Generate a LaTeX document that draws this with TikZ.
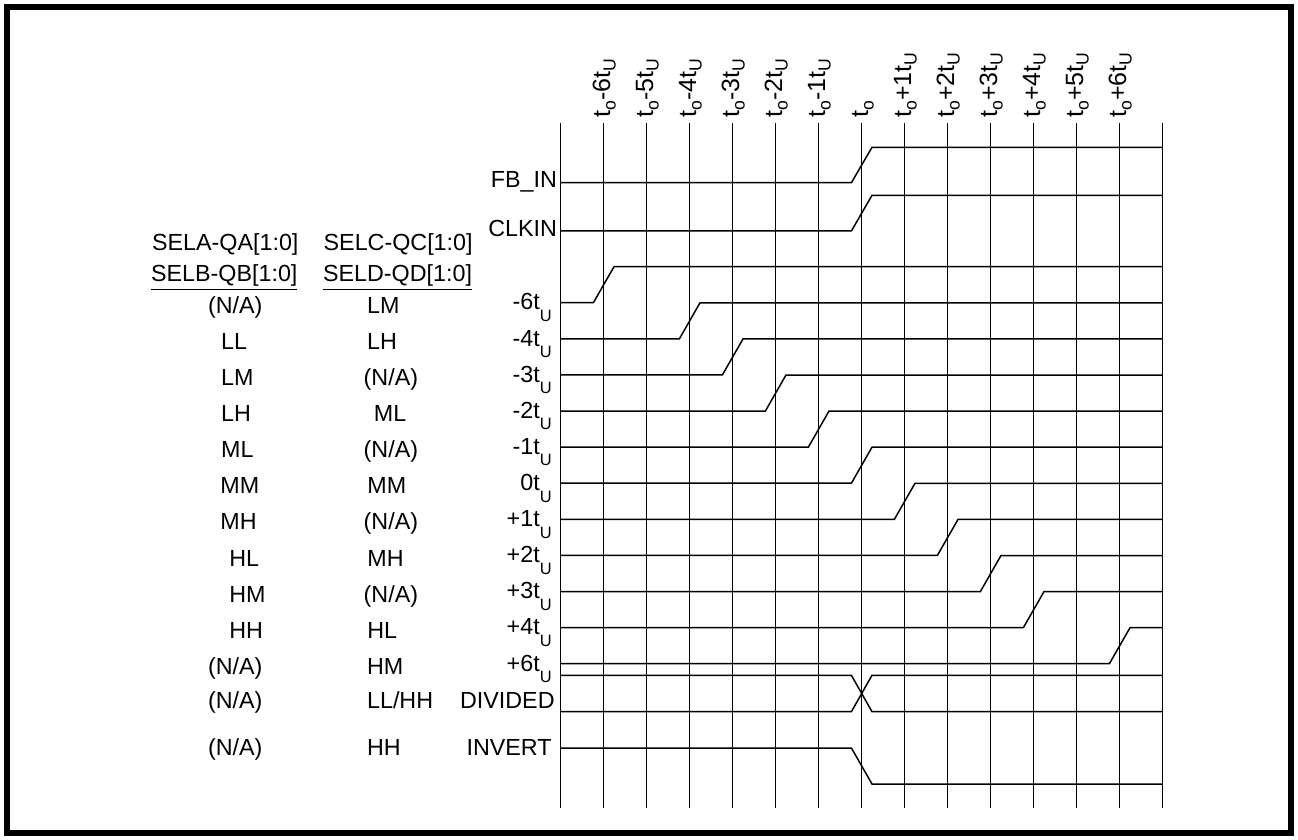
\documentclass[tikz,border=0pt]{standalone}
\usepackage{fontspec}
\setmainfont{Liberation Sans}
\newcommand\lowsub[1]{\raisebox{-5.8pt}{\fontsize{8.2}{9}\selectfont #1}}
\newcommand\topsub[1]{\raisebox{-2.8pt}{\fontsize{8.8}{9}\selectfont #1}}
\begin{document}
\begin{tikzpicture}
  [x=0.5pt,y=-0.5pt,
   lbl/.style={font=\fontsize{11.65}{14}\selectfont,inner sep=0pt},
   toplbl/.style={font=\fontsize{12.5}{14}\selectfont,inner sep=0pt,rotate=90,anchor=base west},
   grid/.style={line width=0.5pt},
   wave/.style={line width=0.75pt}]
  \useasboundingbox (0,0) rectangle (1298,840);
  \draw[line width=3pt] (7,7) rectangle (1291,833);
  % time grid
  \foreach \k in {0,...,14}
    \draw[grid] (560.7+43*\k,123.3) -- (560.7+43*\k,808.3);
  \foreach \k/\t in {1/-6,2/-5,3/-4,4/-3,5/-2,6/-1,8/+1,9/+2,10/+3,11/+4,12/+5,13/+6}
    \node[toplbl,name=top\k] at (567+43*\k,118) {t\topsub{o}\t t\topsub{U}};
  \node[toplbl,name=top7] at (567+43*7,118) {t\topsub{o}};
  % header
  \node[lbl,anchor=base west,name=sela] at (151.7,250) {SELA-QA[1:0]};
  \node[lbl,anchor=base west,name=selc] at (323.3,250) {SELC-QC[1:0]};
  \node[lbl,anchor=base west,name=selb] at (150.7,281.7) {\underline{SELB-QB[1:0]}};
  \node[lbl,anchor=base west,name=seld] at (322.7,281.7) {\underline{SELD-QD[1:0]}};
  % inputs
  \node[lbl,anchor=base east,name=fbin] at (557.3,187.7) {FB\_IN};
  \node[lbl,anchor=base east,name=clkin] at (557.3,236.7) {CLKIN};
  \draw[wave] (560.7,182.7) -- (851.4,182.7) -- (872,147.3) -- (1162.7,147.3);
  \draw[wave] (560.7,231) -- (851.4,231) -- (872,195.3) -- (1162.7,195.3);
  % skewed outputs
  \foreach \i/\k/\t/\a/\ax/\b/\bx in {0/1/-6/{(N/A)}/207.7/LM/366.7,
      1/3/-4/LL/220.7/LH/366.7, 2/4/-3/LM/220.7/{(N/A)}/363.3,
      3/5/-2/LH/220.7/ML/373.5, 4/6/-1/ML/220.7/{(N/A)}/363.3,
      5/7/0/MM/220/MM/367, 6/8/+1/MH/220/{(N/A)}/363.3,
      7/9/+2/HL/229/MH/367, 8/10/+3/HM/229/{(N/A)}/363.3,
      9/11/+4/HH/229/HL/367, 10/13/+6/{(N/A)}/207.7/HM/366.7}
  {
    \pgfmathsetmacro\yl{302.7+36.1*\i}
    \node[lbl,anchor=base east,name=row\i] at (552,\yl+7.3) {\t t\lowsub{U}};
    \node[lbl,anchor=base west,name=ab\i] at (\ax,\yl+10.6) {\a};
    \node[lbl,anchor=base west,name=cd\i] at (\bx,\yl+10.6) {\b};
    \draw[wave] (560.7,\yl) -- (550.4+43*\k,\yl) -- (571+43*\k,\yl-36) -- (1162.7,\yl-36);
  }
  % divided and inverted
  \node[lbl,anchor=base east,name=div] at (555,708.3) {DIVIDED};
  \node[lbl,anchor=base west,name=abdiv] at (207.7,708.3) {(N/A)};
  \node[lbl,anchor=base west,name=cddiv] at (366.7,708.3) {LL/HH};
  \draw[wave] (560.7,675.3) -- (851.4,675.3) -- (872,711.7) -- (1162.7,711.7);
  \draw[wave] (560.7,711.7) -- (851.4,711.7) -- (872,675.3) -- (1162.7,675.3);
  \node[lbl,anchor=base east,name=inv] at (552,755) {INVERT};
  \node[lbl,anchor=base west,name=abinv] at (207.7,755) {(N/A)};
  \node[lbl,anchor=base west,name=cdinv] at (366.7,755) {HH};
  \draw[wave] (560.7,748) -- (851.4,748) -- (872,784) -- (1162.7,784);
\end{tikzpicture}
\end{document}
